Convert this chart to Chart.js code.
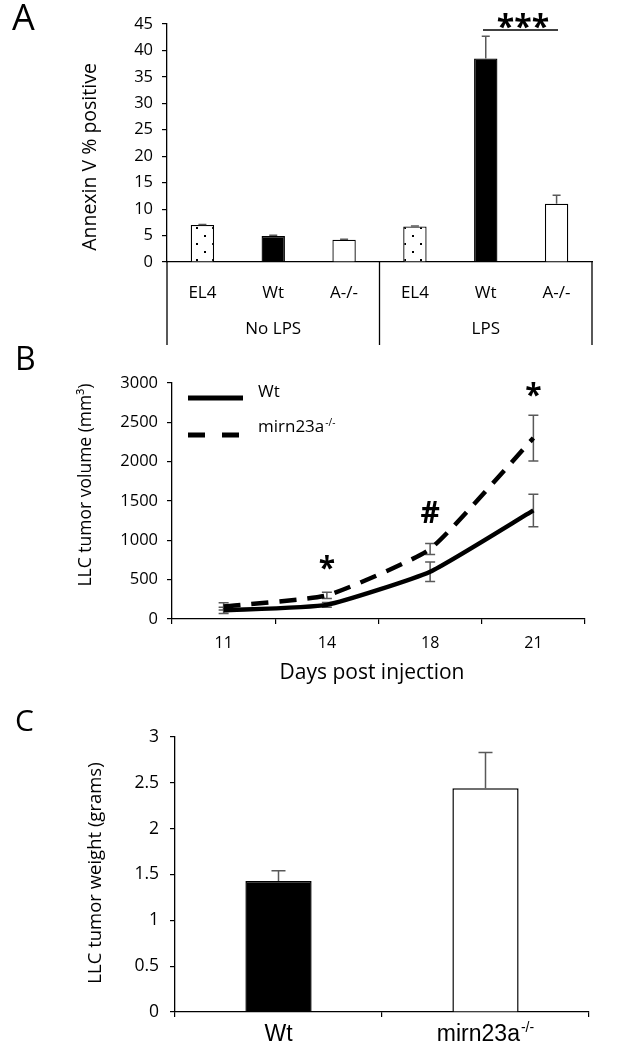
<!DOCTYPE html>
<html>
<head>
<meta charset="utf-8">
<script src="https://cdn.jsdelivr.net/npm/chart.js"></script>
<style>
  body { margin: 0; background: #fff; }
  canvas { position: absolute; left: 0; }
</style>
</head>
<body>
<canvas id="chartA" width="631" height="345" style="top:0"></canvas>
<canvas id="chartB" width="631" height="345" style="top:345px"></canvas>
<canvas id="chartC" width="631" height="360" style="top:690px"></canvas>
<script>
// panel A - annexin V
const annexinLabels = ["EL4", "Wt", "A-/-", "EL4", "Wt", "A-/-"];
const annexinGroups = ["No LPS", "LPS"];
const annexinValues = [7.0, 4.9, 4.2, 6.7, 38.5, 11.0];
const annexinErrors = [0.1, 0.15, 0.1, 0.1, 4.2, 1.6];
const annexinTicks = { min: 0, max: 45, step: 5 };

// panel B - tumor volume
const dayLabels = ["11", "14", "18", "21"];
const wtVolume = [110, 180, 600, 1380];
const wtVolumeErr = [40, 30, 123, 206];
const koVolume = [160, 300, 890, 2300];
const koVolumeErr = [45, 40, 70, 290];
const volumeTicks = { min: 0, max: 3000, step: 500 };

// panel C - tumor weight
const weightLabels = ["Wt", "mirn23a-/-"];
const weightValues = [1.43, 2.44];
const weightErrors = [0.11, 0.39];
const weightTicks = { min: 0, max: 3, step: 0.5 };

const FONT = "'Open Sans', sans-serif";
const GREY = "#595959";

function dotPattern() {
  const c = document.createElement("canvas");
  c.width = 16; c.height = 16;
  const g = c.getContext("2d");
  g.fillStyle = "#fff";
  g.fillRect(0, 0, 16, 16);
  g.fillStyle = "#000";
  g.fillRect(4, 3, 2, 2);
  g.fillRect(12, 11, 2, 2);
  return g.createPattern(c, "repeat");
}

// draws "mirn23a-/-" with the -/- raised
function supText(ctx, text, x, y, size, family, align) {
  const m = text.match(/^(.*?)(-\/-)$/);
  const base = m && m[1] !== "A" ? m[1] : text;
  const sup = m && m[1] !== "A" ? m[2] : "";
  ctx.font = size + "px " + family;
  const bw = ctx.measureText(base).width;
  ctx.font = Math.round(size * 0.6) + "px " + family;
  const sw = sup ? ctx.measureText(sup).width + 1 : 0;
  let left = x;
  if (align === "center") left = x - (bw + sw) / 2;
  ctx.textAlign = "left";
  ctx.textBaseline = "alphabetic";
  ctx.font = size + "px " + family;
  ctx.fillText(base, left, y);
  if (sup) {
    ctx.font = Math.round(size * 0.6) + "px " + family;
    ctx.fillText(sup, left + bw + 1, y - size * 0.38);
  }
}

function vText(ctx, text, x, y, size) {
  ctx.save();
  ctx.translate(x, y);
  ctx.rotate(-Math.PI / 2);
  ctx.font = size + "px " + FONT;
  ctx.fillStyle = "#000";
  ctx.textAlign = "center";
  ctx.textBaseline = "middle";
  ctx.fillText(text, 0, 0);
  ctx.restore();
}

function drawErrors(chart, opts) {
  const ctx = chart.ctx;
  const y = chart.scales.y;
  ctx.save();
  ctx.strokeStyle = GREY;
  ctx.lineWidth = 1.5;
  chart.data.datasets.forEach((ds, i) => {
    const meta = chart.getDatasetMeta(i);
    meta.data.forEach((el, j) => {
      const v = ds.data[j], e = ds.errors[j];
      const t = y.getPixelForValue(v + e);
      const b = y.getPixelForValue(opts.plusOnly ? v : v - e);
      ctx.beginPath();
      ctx.moveTo(el.x, t); ctx.lineTo(el.x, b);
      ctx.moveTo(el.x - opts.cap, t); ctx.lineTo(el.x + opts.cap, t);
      if (!opts.plusOnly) { ctx.moveTo(el.x - opts.cap, b); ctx.lineTo(el.x + opts.cap, b); }
      ctx.stroke();
    });
  });
  ctx.restore();
}

const errorBars = {
  id: "errorBars",
  beforeDatasetsDraw(chart, args, opts) { if (opts.behind) drawErrors(chart, opts); },
  afterDatasetsDraw(chart, args, opts) { if (!opts.behind) drawErrors(chart, opts); }
};

function axisOpts(t, width, size, pad) {
  return {
    min: t.min, max: t.max,
    ticks: { stepSize: t.step, color: "#000", font: { family: FONT, size: size }, padding: pad,
             callback: v => String(v) },
    grid: { drawOnChartArea: false, tickLength: 5, color: "#000", lineWidth: 1.2 },
    border: { color: "#000", width: 1.3 },
    afterFit(s) { s.width = width; }
  };
}

// ---------- A ----------
const panelA = {
  id: "panelA",
  afterDraw(chart) {
    const ctx = chart.ctx, x = chart.scales.x, a = chart.chartArea;
    ctx.save();
    ctx.fillStyle = "#000";
    ctx.font = "36px " + FONT;
    ctx.textBaseline = "alphabetic";
    ctx.fillText("A", 12, 30);
    vText(ctx, "Annexin V % positive", 90, 157, 19.5);

    // category boxes under the axis
    const mid = (x.getPixelForValue(2) + x.getPixelForValue(3)) / 2;
    ctx.strokeStyle = "#000";
    ctx.lineWidth = 1.3;
    ctx.beginPath();
    [a.left, mid, a.right].forEach(px => { ctx.moveTo(px, a.bottom); ctx.lineTo(px, 345); });
    ctx.stroke();
    ctx.font = "17px " + FONT;
    ctx.textAlign = "center";
    ctx.textBaseline = "middle";
    annexinLabels.forEach((l, i) => ctx.fillText(l, x.getPixelForValue(i), 293));
    ctx.fillText(annexinGroups[0], (a.left + mid) / 2, 329);
    ctx.fillText(annexinGroups[1], (mid + a.right) / 2, 329);

    // significance bar
    ctx.beginPath();
    ctx.lineWidth = 1.5;
    ctx.moveTo(483, 30); ctx.lineTo(558, 30);
    ctx.stroke();
    ctx.font = "bold 32px " + FONT;
    ctx.textBaseline = "alphabetic";
    ctx.fillText("***", 523, 38);
    ctx.restore();
  }
};

new Chart("chartA", {
  type: "bar",
  data: {
    labels: annexinLabels,
    datasets: [{
      data: annexinValues,
      errors: annexinErrors,
      backgroundColor: [dotPattern(), "#000", "#fff", dotPattern(), "#000", "#fff"],
      borderColor: "#000",
      borderWidth: 1.3,
      barPercentage: 0.33,
      categoryPercentage: 1
    }]
  },
  options: {
    responsive: false,
    animation: false,
    layout: { padding: { top: 24, right: 39, left: 0, bottom: 0 } },
    plugins: {
      legend: { display: false },
      tooltip: { enabled: false },
      errorBars: { plusOnly: true, cap: 4 }
    },
    scales: {
      x: {
        ticks: { display: false },
        grid: { drawOnChartArea: false, drawTicks: false },
        border: { color: "#000", width: 1.3 },
        afterFit(s) { s.height = 83; }
      },
      y: axisOpts(annexinTicks, 167, 16.5, 9)
    }
  },
  plugins: [errorBars, panelA]
});

// ---------- B ----------
const panelB = {
  id: "panelB",
  afterDraw(chart) {
    const ctx = chart.ctx, x = chart.scales.x;
    ctx.save();
    ctx.fillStyle = "#000";
    ctx.font = "32px " + FONT;
    ctx.textBaseline = "alphabetic";
    ctx.fillText("B", 15, 370 - 345);
    vText(ctx, "LLC tumor volume (mm\u00B3)", 86, 485 - 345, 17.5);
    ctx.font = "21px " + FONT;
    ctx.textAlign = "center";
    ctx.textBaseline = "middle";
    ctx.fillText("Days post injection", 372, 673 - 345);

    // legend
    const ds = chart.data.datasets;
    ctx.strokeStyle = "#000";
    ctx.lineWidth = 5;
    ctx.beginPath(); ctx.moveTo(188, 53); ctx.lineTo(243, 53); ctx.stroke();
    ctx.setLineDash([17, 17]);
    ctx.beginPath(); ctx.moveTo(188, 90); ctx.lineTo(243, 90); ctx.stroke();
    ctx.setLineDash([]);
    supText(ctx, ds[0].label, 258, 52, 17, FONT, "left");
    supText(ctx, ds[1].label, 258, 87, 17, FONT, "left");

    // markers
    ctx.textAlign = "center";
    ctx.textBaseline = "alphabetic";
    ctx.font = "bold 30px " + FONT;
    ctx.fillText("*", x.getPixelForValue(1), 578 - 345);
    ctx.fillText("*", x.getPixelForValue(3), 405 - 345);
    ctx.fillText("#", x.getPixelForValue(2), 523 - 345);
    ctx.restore();
  }
};

new Chart("chartB", {
  type: "line",
  data: {
    labels: dayLabels,
    datasets: [
      { label: "Wt", data: wtVolume, errors: wtVolumeErr, borderColor: "#000", borderWidth: 4.5, pointRadius: 0, tension: 0.15 },
      { label: "mirn23a-/-", data: koVolume, errors: koVolumeErr, borderColor: "#000", borderWidth: 4.5, borderDash: [17, 11], pointRadius: 0, tension: 0.15 }
    ]
  },
  options: {
    responsive: false,
    animation: false,
    layout: { padding: { top: 38, right: 46, left: 0, bottom: 0 } },
    plugins: {
      legend: { display: false },
      tooltip: { enabled: false },
      errorBars: { behind: true, cap: 5 }
    },
    scales: {
      x: {
        offset: true,
        ticks: { color: "#000", font: { family: FONT, size: 16 }, padding: 10 },
        grid: { offset: true, drawOnChartArea: false, tickLength: 5, color: "#000", lineWidth: 1.2 },
        border: { color: "#000", width: 1.3 },
        afterFit(s) { s.height = 71; }
      },
      y: axisOpts(volumeTicks, 172, 16.5, 9)
    }
  },
  plugins: [errorBars, panelB]
});

// ---------- C ----------
const panelC = {
  id: "panelC",
  afterDraw(chart) {
    const ctx = chart.ctx, x = chart.scales.x;
    ctx.save();
    ctx.fillStyle = "#000";
    ctx.font = "30px " + FONT;
    ctx.textBaseline = "alphabetic";
    ctx.fillText("C", 15, 731 - 690);
    vText(ctx, "LLC tumor weight (grams)", 96, 873 - 690, 18.5);
    weightLabels.forEach((l, i) =>
      supText(ctx, l, x.getPixelForValue(i), 1041 - 690, 23, "'Liberation Sans', Arial, sans-serif", "center"));
    ctx.restore();
  }
};

new Chart("chartC", {
  type: "bar",
  data: {
    labels: weightLabels,
    datasets: [{
      data: weightValues,
      errors: weightErrors,
      backgroundColor: ["#000", "#fff"],
      borderColor: "#000",
      borderWidth: 1.5,
      barPercentage: 0.32,
      categoryPercentage: 1
    }]
  },
  options: {
    responsive: false,
    animation: false,
    layout: { padding: { top: 47, right: 42, left: 0, bottom: 0 } },
    plugins: {
      legend: { display: false },
      tooltip: { enabled: false },
      errorBars: { plusOnly: true, cap: 7 }
    },
    scales: {
      x: {
        ticks: { display: false },
        grid: { offset: true, drawOnChartArea: false, tickLength: 5, color: "#000", lineWidth: 1.2 },
        border: { color: "#000", width: 1.3 },
        afterFit(s) { s.height = 38; }
      },
      y: axisOpts(weightTicks, 175, 17.5, 11)
    }
  },
  plugins: [errorBars, panelC]
});
</script>
</body>
</html>
